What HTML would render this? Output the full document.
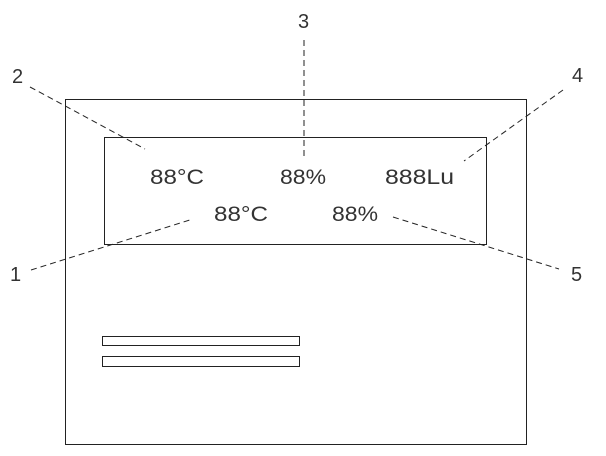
<!DOCTYPE html>
<html><head><meta charset="utf-8"><style>
html,body{margin:0;padding:0;background:#fff;}
svg{display:block;}
text{font-family:"Liberation Sans",sans-serif;fill:#333;}
</style></head><body>
<svg width="606" height="456" viewBox="0 0 606 456">
<rect x="65.5" y="99.5" width="461" height="345" fill="none" stroke="#222" stroke-width="1"/>
<rect x="104.5" y="137.5" width="382" height="107" fill="none" stroke="#222" stroke-width="1"/>
<rect x="102.5" y="336.5" width="197" height="9" fill="none" stroke="#222"/>
<rect x="102.5" y="356.5" width="197" height="10" fill="none" stroke="#222"/>
<g font-size="21">
<text x="150" y="184" textLength="54" lengthAdjust="spacingAndGlyphs">88°C</text>
<text x="280" y="184" textLength="46" lengthAdjust="spacingAndGlyphs">88%</text>
<text x="385" y="184" textLength="69" lengthAdjust="spacingAndGlyphs">888Lu</text>
<text x="214" y="221" textLength="54" lengthAdjust="spacingAndGlyphs">88°C</text>
<text x="332" y="221" textLength="46" lengthAdjust="spacingAndGlyphs">88%</text>
</g>
<g stroke="#222" stroke-width="1" stroke-dasharray="6,4" fill="none">
<line x1="30" y1="87" x2="145" y2="149"/>
<line x1="304" y1="40" x2="304" y2="156"/>
<line x1="563" y1="90" x2="464" y2="161"/>
<line x1="31" y1="270" x2="193" y2="219"/>
<line x1="393" y1="217" x2="559" y2="269"/>
</g>
<g font-size="20">
<text x="298" y="28">3</text>
<text x="12" y="83">2</text>
<text x="572" y="82">4</text>
<text x="10" y="281">1</text>
<text x="571" y="281">5</text>
</g>
</svg>
</body></html>
